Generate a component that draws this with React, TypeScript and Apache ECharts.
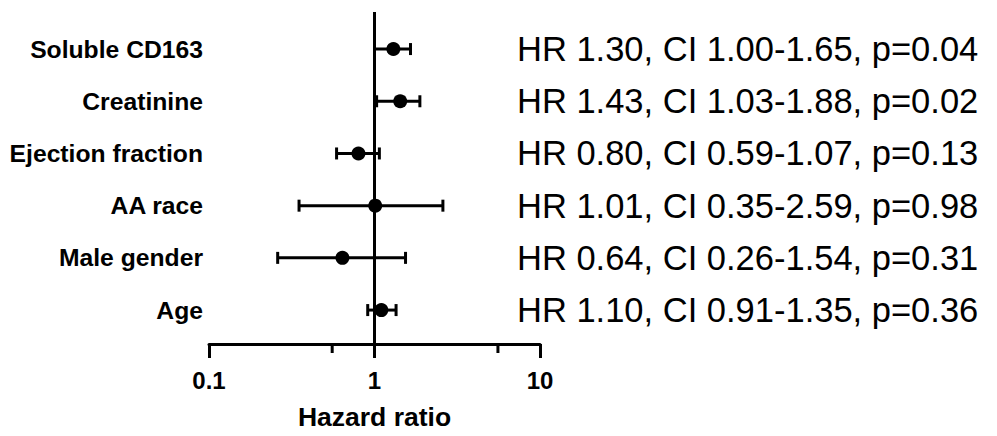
import React, { useEffect, useRef } from "react";
import * as echarts from "echarts";

const labels = ["Soluble CD163", "Creatinine", "Ejection fraction", "AA race", "Male gender", "Age"];
const hr = [1.3, 1.43, 0.8, 1.01, 0.64, 1.1];
const ciLow = [1.0, 1.03, 0.59, 0.35, 0.26, 0.91];
const ciHigh = [1.65, 1.88, 1.07, 2.59, 1.54, 1.35];
const pValues = ["0.04", "0.02", "0.13", "0.98", "0.31", "0.36"];
const xTickValues = [0.1, 1, 10];
const minorTicks = [0.555, 5.57];

const Y_MIN = 0.35;
const Y_MAX = 6.71;
const FONT = "'Liberation Sans', Arial, Helvetica, sans-serif";

const fmt = (v: number) => v.toFixed(2);

export default function App() {
  const ref = useRef<HTMLDivElement>(null);
  useEffect(() => {
    if (!ref.current) return;
    const chart = echarts.init(ref.current, undefined, { renderer: "svg" });
    const n = labels.length;
    const rowY = labels.map((_, i) => n - i);
    const yToIdx = (v: number) => n - Math.round(v);

    chart.setOption({
      animation: false,
      backgroundColor: "#fff",
      grid: { left: 209, right: 457, top: 12, bottom: 92, containLabel: false },
      xAxis: {
        type: "log",
        logBase: 10,
        min: 0.1,
        max: 10,
        name: "Hazard ratio",
        nameLocation: "middle",
        nameGap: 59,
        nameTextStyle: { fontFamily: FONT, fontWeight: "bold", fontSize: 26.5, color: "#000" },
        axisLine: { show: true, lineStyle: { color: "#000", width: 3 } },
        axisTick: { show: true, length: 14, lineStyle: { color: "#000", width: 3 } },
        minorTick: { show: false },
        splitLine: { show: false },
        axisLabel: {
          margin: 24,
          fontFamily: FONT,
          fontWeight: "bold",
          fontSize: 24,
          color: "#000",
          formatter: (v: number) => {
            const m = xTickValues.find((t) => Math.abs(t - v) / t < 1e-6);
            return m !== undefined ? String(m) : "";
          },
        },
      },
      yAxis: [
        {
          type: "value",
          min: Y_MIN,
          max: Y_MAX,
          axisLine: { show: false },
          axisTick: { show: false },
          splitLine: { show: false },
          axisLabel: {
            customValues: rowY,
            margin: 6,
            fontFamily: FONT,
            fontWeight: "bold",
            fontSize: 24.7,
            color: "#000",
            formatter: (v: number) => labels[yToIdx(v)] ?? "",
          },
        },
        {
          type: "value",
          position: "right",
          offset: -23,
          min: Y_MIN,
          max: Y_MAX,
          axisLine: { show: false },
          axisTick: { show: false },
          splitLine: { show: false },
          axisLabel: {
            customValues: rowY,
            margin: 0,
            fontFamily: FONT,
            fontSize: 34.5,
            color: "#000",
            formatter: (v: number) => {
              const i = yToIdx(v);
              if (i < 0 || i >= n) return "";
              return `HR ${fmt(hr[i])}, CI ${fmt(ciLow[i])}-${fmt(ciHigh[i])}, p=${pValues[i]}`;
            },
          },
        },
      ],
      series: [
        {
          type: "custom",
          name: "minor",
          coordinateSystem: "cartesian2d",
          clip: false,
          silent: true,
          data: minorTicks.map((v) => [v, Y_MIN]),
          encode: { x: 0, y: 1 },
          renderItem: (params: any, api: any) => {
            const p = api.coord([api.value(0), api.value(1)]);
            return {
              type: "line",
              shape: { x1: p[0], y1: p[1], x2: p[0], y2: p[1] + 9 },
              style: { stroke: "#000", lineWidth: 3 },
            };
          },
        },
        {
          type: "custom",
          name: "ci",
          coordinateSystem: "cartesian2d",
          clip: false,
          silent: true,
          data: labels.map((_, i) => [ciLow[i], ciHigh[i], rowY[i]]),
          encode: { x: [0, 1], y: 2 },
          renderItem: (params: any, api: any) => {
            const y = api.value(2);
            const a = api.coord([api.value(0), y]);
            const b = api.coord([api.value(1), y]);
            const h = 6;
            const st = { stroke: "#000", lineWidth: 3 };
            return {
              type: "group",
              children: [
                { type: "line", shape: { x1: a[0], y1: a[1], x2: b[0], y2: b[1] }, style: st },
                { type: "line", shape: { x1: a[0], y1: a[1] - h, x2: a[0], y2: a[1] + h }, style: st },
                { type: "line", shape: { x1: b[0], y1: b[1] - h, x2: b[0], y2: b[1] + h }, style: st },
              ],
            };
          },
        },
        {
          type: "scatter",
          name: "HR",
          symbol: "circle",
          symbolSize: 14,
          itemStyle: { color: "#000", opacity: 1 },
          data: labels.map((_, i) => [hr[i], rowY[i]]),
          z: 5,
          markLine: {
            silent: true,
            symbol: "none",
            label: { show: false },
            lineStyle: { color: "#000", width: 3, type: "solid", opacity: 1 },
            data: [{ xAxis: 1 }],
          },
        },
      ],
    });
    return () => chart.dispose();
  }, []);
  return (
    <div
      ref={ref}
      style={{ position: "absolute", left: 0, top: 0, width: 997, height: 436, background: "#fff" }}
    />
  );
}
